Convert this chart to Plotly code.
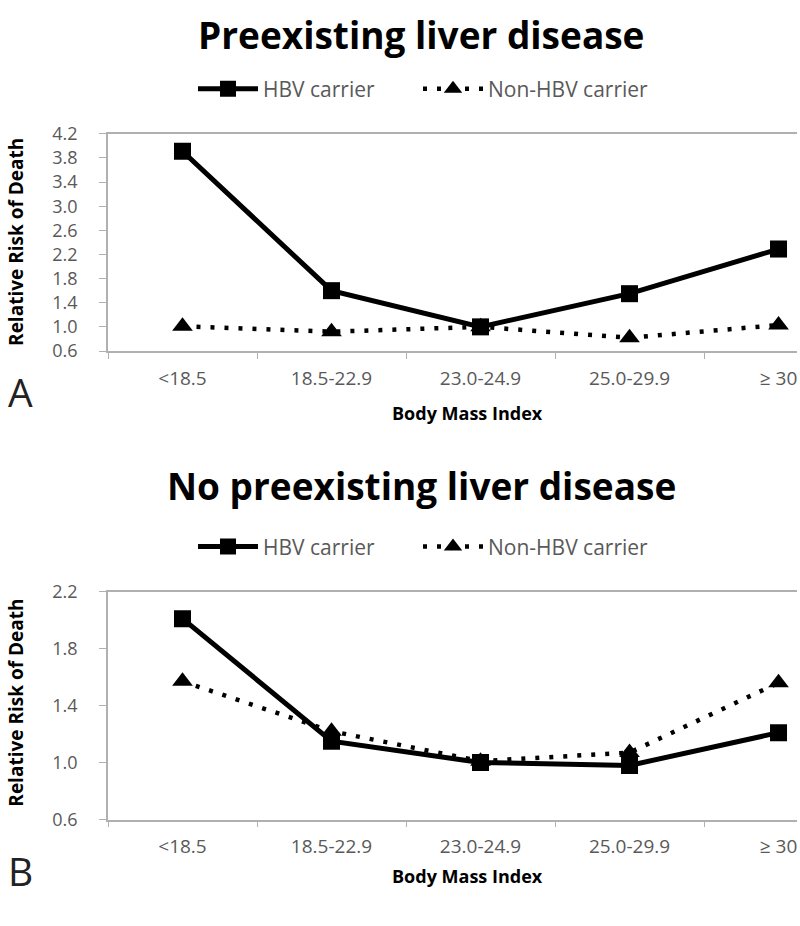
import plotly.graph_objects as go

categories = ["<18.5", "18.5-22.9", "23.0-24.9", "25.0-29.9", "≥ 30"]

# Panel A: Preexisting liver disease
a_hbv = [3.91, 1.60, 1.00, 1.55, 2.29]
a_non_hbv = [1.01, 0.92, 1.00, 0.82, 1.03]

# Panel B: No preexisting liver disease
b_hbv = [2.01, 1.15, 1.00, 0.98, 1.21]
b_non_hbv = [1.57, 1.22, 1.01, 1.07, 1.56]

FONT = "Open Sans"
GRAY = "#595959"
AXC = "#b0b0b0"
W, H = 800, 926


def py(p):
    return 1 - p / H


fig = go.Figure()

hbv_line = dict(color="black", width=5)
non_line = dict(color="black", width=4.5, dash="4px,10px")
sq = dict(symbol="square", size=17, color="black")
tri = dict(symbol="triangle-up", size=18, color="black")

fig.add_trace(go.Scatter(x=categories, y=a_non_hbv, mode="lines+markers", name="Non-HBV carrier",
                         line=non_line, marker=tri, xaxis="x", yaxis="y", legend="legend2"))
fig.add_trace(go.Scatter(x=categories, y=a_hbv, mode="lines+markers", name="HBV carrier",
                         line=hbv_line, marker=sq, xaxis="x", yaxis="y", legend="legend"))
fig.add_trace(go.Scatter(x=categories, y=b_non_hbv, mode="lines+markers", name="Non-HBV carrier",
                         line=non_line, marker=tri, xaxis="x2", yaxis="y2", legend="legend4"))
fig.add_trace(go.Scatter(x=categories, y=b_hbv, mode="lines+markers", name="HBV carrier",
                         line=hbv_line, marker=sq, xaxis="x2", yaxis="y2", legend="legend3"))

xdom = [108 / W, 797 / W]
xcommon = dict(type="category", range=[-0.5, 4.124], showline=True, linecolor=AXC, linewidth=1.5,
               mirror=True, ticks="outside", tickson="boundaries", ticklen=6, tickcolor=AXC,
               showgrid=False, zeroline=False,
               tickfont=dict(family=FONT, size=19, color=GRAY), ticklabelstandoff=9)
ycommon = dict(showline=True, linecolor=AXC, linewidth=1.5, ticks="outside", ticklen=7,
               tickcolor=AXC, showgrid=False, zeroline=False, tick0=0.6, dtick=0.4,
               tickformat=".1f",
               tickfont=dict(family=FONT, size=18, color=GRAY), ticklabelstandoff=18)

legcommon = dict(orientation="h", xanchor="left", yanchor="middle", bgcolor="rgba(0,0,0,0)",
                 font=dict(family=FONT, size=21, color=GRAY), itemwidth=60)

fig.update_layout(
    width=W, height=H,
    margin=dict(l=0, r=0, t=0, b=0),
    paper_bgcolor="white", plot_bgcolor="white",
    showlegend=True,
    xaxis=dict(domain=xdom, anchor="y", **xcommon),
    yaxis=dict(domain=[py(347), py(124)], anchor="x", range=[0.6, 4.2], **ycommon),
    xaxis2=dict(domain=xdom, anchor="y2", **xcommon),
    yaxis2=dict(domain=[py(828), py(594)], anchor="x2", range=[0.6, 2.2], **ycommon),
    legend=dict(x=193 / W, y=py(78), **legcommon),
    legend2=dict(x=418 / W, y=py(78), **legcommon),
    legend3=dict(x=193 / W, y=py(548), **legcommon),
    legend4=dict(x=418 / W, y=py(548), **legcommon),
)

annots = [
    dict(text="<b>Preexisting liver disease</b>", x=421 / W, y=py(22), font=dict(size=37)),
    dict(text="<b>No preexisting liver disease</b>", x=421 / W, y=py(485), font=dict(size=37)),
    dict(text="<b>Body Mass Index</b>", x=467 / W, y=py(411), font=dict(size=18)),
    dict(text="<b>Body Mass Index</b>", x=467 / W, y=py(886), font=dict(size=18)),
    dict(text="A", x=20 / W, y=py(389), font=dict(size=39, color="#222")),
    dict(text="B", x=20 / W, y=py(880), font=dict(size=39, color="#222")),
    dict(text="<b>Relative Risk of Death</b>", x=16 / W, y=py(235), textangle=-90, font=dict(size=19)),
    dict(text="<b>Relative Risk of Death</b>", x=16 / W, y=py(708), textangle=-90, font=dict(size=19)),
]
for a in annots:
    f = dict(family=FONT, color="black")
    f.update(a.pop("font"))
    fig.add_annotation(xref="paper", yref="paper", showarrow=False, xanchor="center",
                       yanchor="middle", font=f, **a)

fig.write_html("out.html", post_script="document.body.style.margin='0';",
               config={"displayModeBar": False})
